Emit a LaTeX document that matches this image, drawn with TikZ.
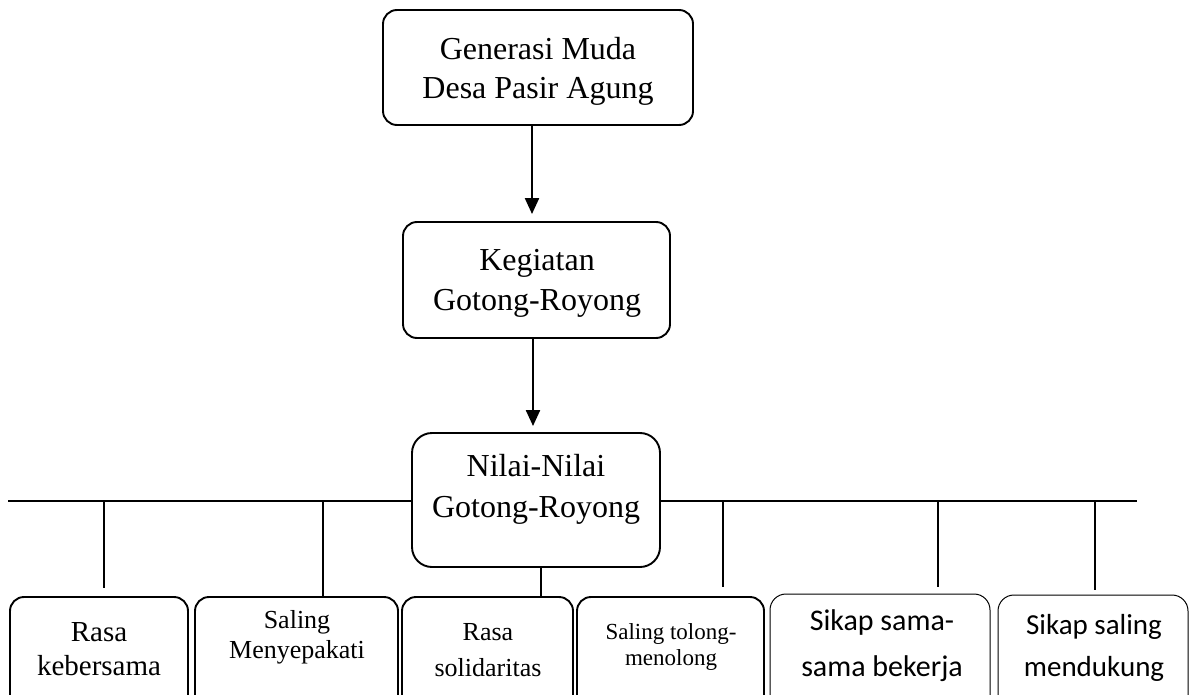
\documentclass[tikz,border=0pt]{standalone}
\usepackage{fontspec}
\setmainfont{Liberation Serif}
\newfontfamily\calfont{Carlito}
\usetikzlibrary{arrows.meta}
\begin{document}
\begin{tikzpicture}[x=1pt,y=-1pt,
  box/.style={draw, line width=1.9pt, rounded corners=14pt, inner sep=0pt},
  thinbox/.style={draw, line width=1.0pt, rounded corners=16pt, inner sep=0pt},
  lbl/.style={align=center, inner sep=0pt},
  conn/.style={line width=1.5pt},
  arr/.style={line width=2.2pt, -{Triangle[length=16pt,width=14pt]}}]
\useasboundingbox (0,0) rectangle (1198,695);
\clip (0,0) rectangle (1198,695);
% main boxes
\node[box, minimum width=310pt, minimum height=115pt] (top) at (538,67.5) {};
\node[box, minimum width=267pt, minimum height=116pt] (keg) at (536.5,280) {};
\node[box, rounded corners=20pt, minimum width=248pt, minimum height=134pt] (nil) at (536,500) {};
\node[lbl, font={\fontsize{32}{39}\selectfont}] (ttop) at (538,71) {Generasi Muda\\Desa Pasir Agung};
\node[lbl, font={\fontsize{32}{40}\selectfont}] (tkeg) at (537,283) {Kegiatan\\Gotong-Royong};
\node[lbl, font={\fontsize{32}{41}\selectfont}] (tnil) at (536,489) {Nilai-Nilai\\Gotong-Royong};
% bottom boxes
\node[box, minimum width=178pt, minimum height=128pt] (b1) at (99,661) {};
\node[box, minimum width=203pt, minimum height=128pt] (b2) at (296.5,661) {};
\node[box, minimum width=171pt, minimum height=128pt] (b3) at (487.5,661) {};
\node[box, minimum width=187pt, minimum height=128pt] (b4) at (670.5,661) {};
\node[thinbox, minimum width=220pt, minimum height=130pt] (b5) at (880,659) {};
\node[thinbox, minimum width=190pt, minimum height=130pt] (b6) at (1093,660) {};
\node[lbl, font={\fontsize{29}{34}\selectfont}] (t1) at (99,649) {Rasa\\kebersama};
\node[lbl, font={\fontsize{26}{30}\selectfont}] (t2) at (297,637) {Saling\\Menyepakati};
\node[lbl, font={\fontsize{26}{36}\selectfont}] (t3) at (488,650) {Rasa\\solidaritas};
\node[lbl, font={\fontsize{23}{26}\selectfont}] (t4) at (671,647) {Saling tolong-\\menolong};
\node[lbl, font={\calfont\fontsize{30}{46}\selectfont}] (t5) at (882,646) {Sikap sama-\\sama bekerja};
\node[lbl, font={\calfont\fontsize{29}{42}\selectfont}] (t6) at (1094,648) {Sikap saling\\mendukung};
% arrows
\coordinate (ax1) at (532,0);
\coordinate (ax2) at (533,0);
\draw[arr, shorten >=7pt] (top.south -| ax1) -- (keg.north -| ax1);
\draw[arr, shorten >=6pt] (keg.south -| ax2) -- (nil.north -| ax2);
% horizontal line
\coordinate (hl) at (8,501);
\coordinate (hr) at (1137,501);
\draw[conn] (hl) -- (hl -| nil.west);
\draw[conn] (hl -| nil.east) -- (hr);
% drops
\coordinate (d1) at (104,501);
\coordinate (d2) at (323,501);
\coordinate (d3) at (541,0);
\coordinate (d4) at (723,501);
\coordinate (d5) at (938,501);
\coordinate (d6) at (1095,501);
\draw[conn] (d1) -- ([yshift=8pt]d1 |- b1.north);
\draw[conn] (d2) -- (d2 |- b2.north);
\draw[conn] (nil.south -| d3) -- (b3.north -| d3);
\draw[conn] (d4) -- ([yshift=9pt]d4 |- b4.north);
\draw[conn] (d5) -- ([yshift=7pt]d5 |- b5.north);
\draw[conn] (d6) -- ([yshift=5pt]d6 |- b6.north);
\end{tikzpicture}
\end{document}
